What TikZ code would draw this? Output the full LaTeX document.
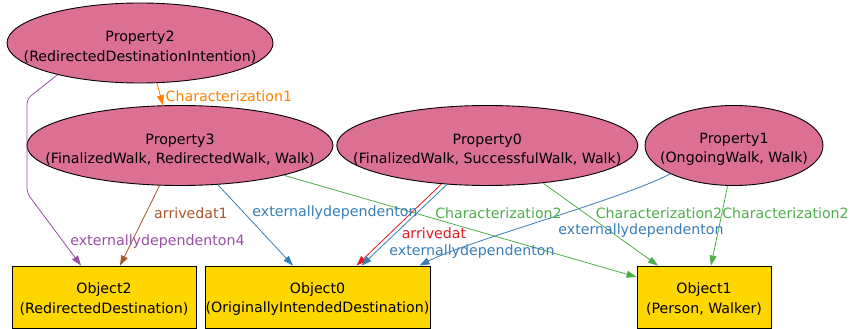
\documentclass[tikz,border=0pt]{standalone}
\usepackage{fontspec}
\setmainfont{DejaVu Sans}
\usetikzlibrary{shapes.geometric,arrows.meta}
\definecolor{propfill}{RGB}{219,112,147}
\definecolor{objfill}{RGB}{255,215,0}
\definecolor{cpurple}{RGB}{152,78,163}
\definecolor{corange}{RGB}{255,127,0}
\definecolor{cbrown}{RGB}{166,86,40}
\definecolor{cblue}{RGB}{55,126,184}
\definecolor{cgreen}{RGB}{77,175,74}
\definecolor{cred}{RGB}{228,26,28}
\begin{document}
\begin{tikzpicture}[x=1pt,y=-1pt,
  every node/.style={font=\fontsize{14.2}{19.5}\selectfont},
  prop/.style={ellipse, draw=black, fill=propfill, line width=0.9pt, inner sep=0pt},
  obj/.style={rectangle, draw=black, fill=objfill, line width=0.9pt, align=center, inner sep=0pt},
  txt/.style={align=center, inner sep=0pt, yshift=-4pt},
  edgeline/.style={line width=0.8pt, -{Triangle[length=10pt,width=7pt]}},
  lab/.style={inner sep=0pt}]
\useasboundingbox (0,0) rectangle (851,329);
% property ellipses
\node[prop, minimum width=266pt, minimum height=80pt,
  label={[txt]center:Property2\\(RedirectedDestinationIntention)}] (p2) at (140,43) {};
\node[prop, minimum width=306pt, minimum height=80pt,
  label={[txt]center:Property3\\(FinalizedWalk, RedirectedWalk, Walk)}] (p3) at (180,145.5) {};
\node[prop, minimum width=301pt, minimum height=80pt,
  label={[txt]center:Property0\\(FinalizedWalk, SuccessfulWalk, Walk)}] (p0) at (487.3,145.5) {};
\node[prop, minimum width=178pt, minimum height=80pt,
  label={[txt]center:Property1\\(OngoingWalk, Walk)}] (p1) at (734,145.5) {};
% object boxes
\node[obj, minimum width=184pt, minimum height=62pt] (o2) at (104,297) {};
\node[obj, minimum width=225pt, minimum height=62pt] (o0) at (317.5,297) {};
\node[obj, minimum width=134pt, minimum height=62pt] (o1) at (704,297) {};
\node[txt, yshift=2pt] (t2) at (o2) {Object2\\(RedirectedDestination)};
\node[txt, yshift=2pt] (t0) at (o0) {Object0\\(OriginallyIntendedDestination)};
\node[txt, yshift=2pt] (t1) at (o1) {Object1\\(Person, Walker)};
% bend points
\coordinate (b1) at (27,99);
\coordinate (b2) at (27,193);
% edges
\draw[edgeline, cpurple, rounded corners=5pt] (p2.201) -- (b1) -- (b2) -- ([xshift=-23pt]o2.north);
\draw[edgeline, corange] (p2.293) -- (p3.113);
\draw[edgeline, cbrown] (p3.243) -- ([xshift=16pt]o2.north);
\draw[edgeline, cblue] (p3.314) -- ([xshift=-24.5pt]o0.north);
\draw[edgeline, cgreen] (p3.344) -- ([yshift=20pt]o1.west);
\draw[edgeline, cred] (p0.220.5) -- ([xshift=39pt]o0.north);
\draw[edgeline, cblue] (p0.224.4) -- ([xshift=44pt]o0.north);
\draw[edgeline, cblue] (p1.204) .. controls (620,200) and (470,240) .. ([xshift=102pt]o0.north);
\draw[edgeline, cgreen] (p0.326.6) -- ([xshift=-46pt]o1.north);
\draw[edgeline, cgreen] (p1.261) -- ([xshift=7pt]o1.north);
% edge labels
\node[lab, text=corange, anchor=west] (l1) at (165.5,96) {Characterization1};
\node[lab, text=cbrown] (l2) at (191,213) {arrivedat1};
\node[lab, text=cpurple] (l3) at (157.5,242) {externallydependenton4};
\node[lab, text=cblue] (l4) at (335,213) {externallydependenton};
\node[lab, text=cgreen] (l5) at (498.5,213) {Characterization2};
\node[lab, text=cred] (l6) at (434,233) {arrivedat};
\node[lab, text=cblue] (l7) at (472,252) {externallydependenton};
\node[lab, text=cgreen] (l8) at (659,213) {Characterization2};
\node[lab, text=cgreen] (l9) at (785.5,213) {Characterization2};
\node[lab, text=cblue] (l10) at (641,231) {externallydependenton};
\end{tikzpicture}
\end{document}
